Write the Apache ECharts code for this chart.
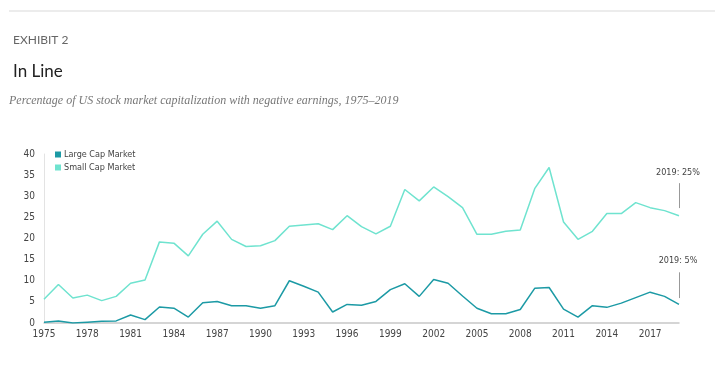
<!DOCTYPE html>
<html>
<head>
<meta charset="utf-8">
<script src="https://cdn.jsdelivr.net/npm/echarts@6/dist/echarts.min.js"></script>
<style>
 html, body { margin: 0; padding: 0; background: #fff; }
 #chart { width: 725px; height: 376px; }
</style>
</head>
<body>
<div id="chart"></div>
<script>
/** 数据 **/
var years = [];
for (var y = 1975; y <= 2019; y++) years.push(String(y));

var largeCap = [0.2, 0.5, 0, 0.2, 0.4, 0.5, 1.9, 0.8, 3.8, 3.5,
  1.4, 4.8, 5.1, 4.1, 4.1, 3.5, 4.1, 10.0, 8.7, 7.3,
  2.6, 4.4, 4.2, 5.1, 7.9, 9.3, 6.3, 10.3, 9.4, 6.4,
  3.5, 2.2, 2.2, 3.2, 8.2, 8.4, 3.3, 1.4, 4.1, 3.7,
  4.7, 6.0, 7.3, 6.3, 4.4];

var smallCap = [5.6, 9.1, 5.9, 6.6, 5.3, 6.3, 9.4, 10.2, 19.2, 18.9,
  15.9, 21.0, 24.1, 19.8, 18.1, 18.3, 19.5, 22.9, 23.2, 23.5,
  22.1, 25.4, 22.8, 21.1, 22.9, 31.6, 28.9, 32.2, 29.9, 27.3,
  21.0, 21.0, 21.7, 22.0, 31.8, 36.8, 23.9, 19.8, 21.7, 25.9,
  25.9, 28.5, 27.3, 26.6, 25.4];

var yTicks = [0, 40, 5];   // min, max, interval

var chart = echarts.init(document.getElementById('chart'));
var narrow = '"Liberation Sans Narrow", "DejaVu Sans Condensed", sans-serif';

var option = {
  animation: false,
  title: [
    {
      text: 'EXHIBIT 2',
      left: 8, top: 29,
      textStyle: { fontFamily: 'Lato, sans-serif', fontSize: 12, fontWeight: 'normal', color: '#666' }
    },
    {
      text: 'In Line',
      left: 8, top: 58,
      textStyle: { fontFamily: 'Lato, sans-serif', fontSize: 17, fontWeight: 'normal', color: '#222' }
    },
    {
      text: 'Percentage of US stock market capitalization with negative earnings, 1975\u20132019',
      left: 4, top: 89.5,
      textStyle: { fontFamily: '"Liberation Serif", serif', fontStyle: 'italic', fontSize: 12, fontWeight: 'normal', color: '#777' }
    }
  ],
  graphic: [
    { type: 'line', shape: { x1: 9, y1: 11, x2: 715, y2: 11 }, style: { stroke: '#d9d9d9', lineWidth: 1 } }
  ],
  legend: {
    orient: 'vertical',
    left: 50, top: 145,
    itemWidth: 6, itemHeight: 6, itemGap: 4,
    icon: 'rect',
    textStyle: { fontFamily: narrow, fontSize: 9, color: '#444', padding: [0, 0, 0, -2] },
    data: ['Large Cap Market', 'Small Cap Market']
  },
  grid: { left: 44, right: 46, top: 154, bottom: 53 },
  xAxis: {
    type: 'category',
    data: years,
    boundaryGap: false,
    axisLine: { lineStyle: { color: '#c8c8c8', width: 1.5 } },
    axisTick: { show: false },
    axisLabel: { interval: 2, color: '#444', fontFamily: narrow, fontSize: 10, margin: 6 }
  },
  yAxis: {
    type: 'value',
    min: yTicks[0], max: yTicks[1], interval: yTicks[2],
    axisLine: { show: true, lineStyle: { color: '#e3e3e3', width: 1 } },
    axisTick: { show: false },
    splitLine: { show: false },
    axisLabel: { color: '#444', fontFamily: narrow, fontSize: 10, margin: 9 }
  },
  series: [
    {
      name: 'Large Cap Market',
      type: 'line',
      data: largeCap,
      color: '#1c9aa5',
      symbol: 'none',
      lineStyle: { width: 1.5 },
      markLine: {
        silent: true, symbol: 'none',
        lineStyle: { color: '#999', width: 1, type: 'solid' },
        label: { show: false },
        data: [[{ coord: ['2019', 12.0] }, { coord: ['2019', 5.9] }]]
      },
      markPoint: {
        symbolSize: 0,
        label: { show: true, formatter: '2019: 5%', color: '#444', fontFamily: narrow, fontSize: 9, offset: [-1, 0] },
        data: [{ coord: ['2019', 14.7] }]
      }
    },
    {
      name: 'Small Cap Market',
      type: 'line',
      data: smallCap,
      color: '#6fe3cf',
      symbol: 'none',
      lineStyle: { width: 1.5 },
      markLine: {
        silent: true, symbol: 'none',
        lineStyle: { color: '#999', width: 1, type: 'solid' },
        label: { show: false },
        data: [[{ coord: ['2019', 33.1] }, { coord: ['2019', 27.2] }]]
      },
      markPoint: {
        symbolSize: 0,
        label: { show: true, formatter: '2019: 25%', color: '#444', fontFamily: narrow, fontSize: 9, offset: [-1, 0] },
        data: [{ coord: ['2019', 35.6] }]
      }
    }
  ]
};
chart.setOption(option);
</script>
</body>
</html>
